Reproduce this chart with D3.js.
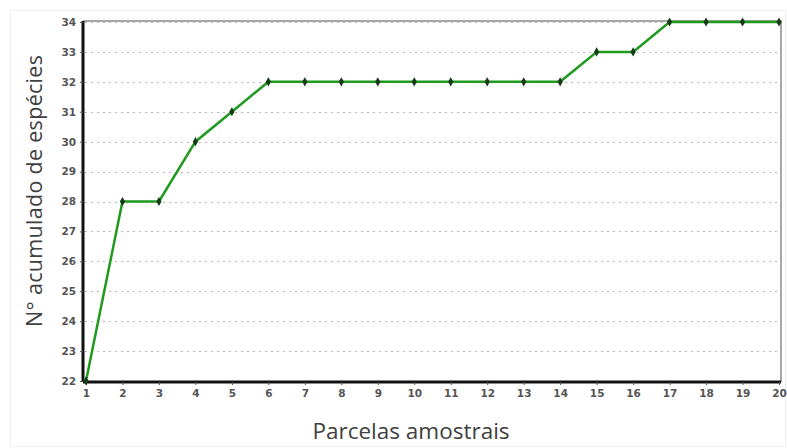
<!DOCTYPE html>
<html>
<head>
<meta charset="utf-8">
<script src="https://cdn.jsdelivr.net/npm/d3@7"></script>
<style>
  html, body { margin: 0; padding: 0; background: #fff; }
  svg { display: block; }
</style>
</head>
<body>
<svg id="chart" width="787" height="448"></svg>
<script>
// Species accumulation curve: cumulative species count per sample plot
const parcelas = [1, 2, 3, 4, 5, 6, 7, 8, 9, 10, 11, 12, 13, 14, 15, 16, 17, 18, 19, 20];
const especies = [22, 28, 28, 30, 31, 32, 32, 32, 32, 32, 32, 32, 32, 32, 33, 33, 34, 34, 34, 34];
const yTicks = [22, 23, 24, 25, 26, 27, 28, 29, 30, 31, 32, 33, 34];
const xTitle = "Parcelas amostrais";
const yTitle = "N° acumulado de espécies";

const svg = d3.select("#chart");

// faint outer frame
svg.append("rect")
  .attr("x", 10.5).attr("y", 10.5)
  .attr("width", 775).attr("height", 436)
  .attr("fill", "none").attr("stroke", "#f0f0f0");

const frame = { left: 83, right: 781, top: 21, bottom: 382 };

const x = d3.scaleLinear().domain([1, 20]).range([86, 779]);
const y = d3.scaleLinear().domain([22, 34]).range([381, 22]);

// horizontal dotted grid
svg.append("g")
  .selectAll("line")
  .data(yTicks)
  .join("line")
  .attr("x1", frame.left + 2).attr("x2", frame.right - 1)
  .attr("y1", d => Math.round(y(d)) + 0.5).attr("y2", d => Math.round(y(d)) + 0.5)
  .attr("stroke", "#b8b8b8")
  .attr("stroke-width", 1.2)
  .attr("stroke-dasharray", "2,4");

// top and right frame edges (light)
svg.append("path")
  .attr("d", `M${frame.left},${frame.top}H${frame.right}V${frame.bottom}`)
  .attr("fill", "none")
  .attr("stroke", "#8a8a8a")
  .attr("stroke-width", 1.5);

const tickFont = "Verdana, 'DejaVu Sans', sans-serif";

// left axis
const yAxis = d3.axisLeft(y).tickValues(yTicks).tickSize(3).tickPadding(4);
const gy = svg.append("g")
  .attr("transform", `translate(${frame.left},0)`)
  .call(yAxis);
gy.select(".domain")
  .attr("d", `M0,${frame.top}V${frame.bottom}`)
  .attr("stroke", "#111").attr("stroke-width", 3);
gy.selectAll(".tick line").attr("stroke", "#555");
gy.selectAll(".tick text")
  .attr("font-family", tickFont)
  .attr("font-size", 10.5)
  .attr("font-weight", "bold")
  .attr("fill", "#555");

// bottom axis
const xAxis = d3.axisBottom(x).tickValues(parcelas).tickFormat(d3.format("d")).tickSize(3).tickPadding(5);
const gx = svg.append("g")
  .attr("transform", `translate(0,${frame.bottom})`)
  .call(xAxis);
gx.select(".domain")
  .attr("d", `M${frame.left},0H${frame.right}`)
  .attr("stroke", "#111").attr("stroke-width", 3);
gx.selectAll(".tick line").attr("stroke", "#555");
gx.selectAll(".tick text")
  .attr("font-family", tickFont)
  .attr("font-size", 10.5)
  .attr("font-weight", "bold")
  .attr("fill", "#555");

// accumulation line
const pts = parcelas.map((p, i) => [p, especies[i]]);
svg.append("path")
  .datum(pts)
  .attr("fill", "none")
  .attr("stroke", "#1f9a1f")
  .attr("stroke-width", 2.5)
  .attr("d", d3.line().x(d => x(d[0])).y(d => y(d[1])));

// point markers
svg.append("g")
  .selectAll("path")
  .data(pts)
  .join("path")
  .attr("transform", d => `translate(${x(d[0])},${y(d[1])})`)
  .attr("d", d3.symbol(d3.symbolDiamond, 24))
  .attr("fill", "#163a16");

// axis titles
svg.append("text")
  .attr("x", 411).attr("y", 439)
  .attr("text-anchor", "middle")
  .attr("font-family", "'Open Sans', 'Noto Sans', sans-serif")
  .attr("font-size", 22.5)
  .attr("fill", "#404040")
  .text(xTitle);

svg.append("text")
  .attr("transform", "translate(42,191) rotate(-90)")
  .attr("text-anchor", "middle")
  .attr("font-family", "'Open Sans', 'Noto Sans', sans-serif")
  .attr("font-size", 21.5)
  .attr("textLength", 272)
  .attr("lengthAdjust", "spacing")
  .attr("fill", "#404040")
  .text(yTitle);
</script>
</body>
</html>
